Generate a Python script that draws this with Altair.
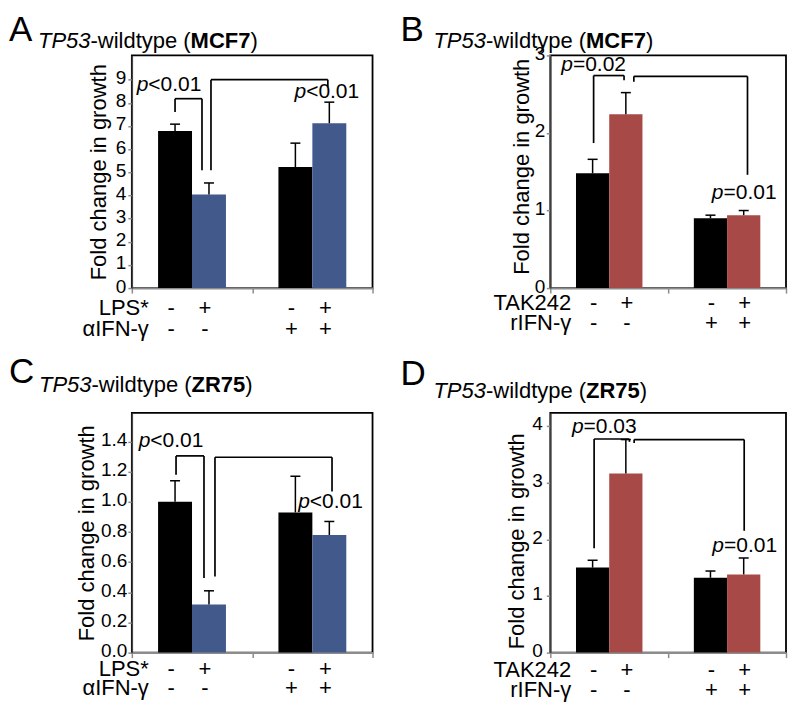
import altair as alt
import pandas as pd

FONT = "Liberation Sans"

# ---------------- data ----------------
bar_ids = ["ctrl_1", "trt_1", "ctrl_2", "trt_2"]
bar_group = [0, 0, 1, 1]
bar_treat = [0, 1, 0, 1]

A_means = [6.78, 4.04, 5.23, 7.12]
A_errs = [0.30, 0.50, 1.03, 0.91]
B_means = [1.48, 2.24, 0.90, 0.94]
B_errs = [0.18, 0.28, 0.04, 0.06]
C_means = [1.00, 0.32, 0.93, 0.78]
C_errs = [0.14, 0.09, 0.24, 0.09]
D_means = [1.50, 3.16, 1.32, 1.38]
D_errs = [0.13, 0.60, 0.12, 0.29]

row_first = ["-", "+", "-", "+"]
row_second = ["-", "-", "+", "+"]
names_lps = ["LPS*", "\u03b1IFN-\u03b3"]
names_tak = ["TAK242", "rIFN-\u03b3"]

A_ticks = [0, 1, 2, 3, 4, 5, 6, 7, 8, 9]
B_ticks = [0, 1, 2, 3]
C_ticks = [0.0, 0.2, 0.4, 0.6, 0.8, 1.0, 1.2, 1.4]
D_ticks = [0, 1, 2, 3, 4]

kinds = ["ctrl", "LPS", "TAK242"]
kind_colors = ["#000000", "#41598B", "#A74A47"]

# significance brackets: path points (bar index, pixel nudge, value)
A_brackets = [[(0, 0, 7.6), (0, 0, 8.18), (1, -7, 8.18), (1, -7, 5.09)],
              [(1, 2, 5.09), (1, 2, 9.0), (3, -1.5, 9.0), (3, -1.5, 8.7)]]
B_brackets = [[(0, 1, 1.87), (0, 1, 2.74), (1, -1.8, 2.74), (1, -1.8, 2.68)],
              [(1, 8, 2.66), (1, 8, 2.73), (3, 3.8, 2.73), (3, 3.8, 1.46)]]
C_brackets = [[(0, 1, 1.18), (0, 1, 1.305), (1, -5, 1.305), (1, -5, 0.495)],
              [(1, 6, 0.505), (1, 6, 1.296), (3, 2.7, 1.296), (3, 2.7, 1.068)]]
D_brackets = [[(0, 1.5, 1.84), (0, 1.5, 3.77), (1, 3.6, 3.77), (1, 3.6, 3.72)],
              [(1, 8.3, 3.70), (1, 8.3, 3.76), (3, 0.5, 3.76), (3, 0.5, 2.15)]]

A_ptexts = [(0, -6, 8.75, "<0.01"), (3, -2.5, 8.45, "<0.01")]
B_ptexts = [(0, 1, 2.88, "=0.02"), (3, 0.5, 1.23, "=0.01")]
C_ptexts = [(0, -4, 1.405, "<0.01"), (3, 1.2, 1.0, "<0.01")]
D_ptexts = [(0, 11.7, 3.99, "=0.03"), (3, 1, 1.88, "=0.01")]

# ---------------- text width helper (Arial metrics, em) ----------------
W_REG = {"-": .333, "w": .722, "i": .222, "l": .222, "d": .556, "t": .278,
         "y": .5, "p": .556, "e": .556, " ": .278, "(": .333, ")": .333}
W_BOLD = {"M": .833, "C": .722, "F": .611, "7": .556, "Z": .611, "R": .722, "5": .556}
W_IT = {"T": .611, "P": .667, "5": .556, "3": .556}


def tw(s, table, size):
    return sum(table[c] for c in s) * size


def panel(cfg):
    W, H = cfg["W"], cfg["H"]
    px = 2.0 / W
    BW = 0.282
    OUT = (1 - 2 * BW) / 2
    df = pd.DataFrame({"bar": bar_ids, "g": bar_group, "t": bar_treat,
                       "mean": cfg["means"], "err": cfg["errs"],
                       "r1": row_first, "r2": row_second})
    df["kind"] = ["ctrl" if t == 0 else cfg["treat"] for t in bar_treat]
    df["x0"] = df["g"] + OUT + df["t"] * BW
    df["x1"] = df["x0"] + BW
    df["xc"] = df["x0"] + BW / 2
    df["zero"] = 0.0
    df["top"] = df["mean"] + df["err"]
    df["cap0"] = df["xc"] - 5 * px
    df["cap1"] = df["xc"] + 5 * px
    centers = list(df["xc"])

    xs = alt.Scale(domain=[0, 2], nice=False, zero=False)
    ys = alt.Scale(domain=[0, cfg["ymax"]], nice=False, zero=True)
    xaxis = alt.Axis(values=[0, 1, 2], labels=False, title=None, grid=False,
                     domainColor="#8c8c8c", domainWidth=2, tickColor="#8c8c8c",
                     tickSize=5, tickWidth=1.5)
    yaxis = alt.Axis(values=cfg["ticks"], format=cfg["fmt"], grid=False,
                     labelFontSize=19, labelColor="black", labelFont=FONT,
                     labelPadding=cfg["lpad"], labelOffset=-2,
                     tickColor="#8c8c8c", tickSize=4, tickWidth=1.5,
                     domainColor="#444444", domainWidth=1.5,
                     title="Fold change in growth", titleFont=FONT,
                     titleFontSize=22, titleFontWeight="normal",
                     titleColor="black", titleAngle=270, titleAlign="center",
                     titleBaseline="middle", titleX=cfg["tx"], titleY=cfg["ty"])

    def X(f):
        return alt.X(f, type="quantitative", scale=xs, axis=xaxis)

    def Y(f):
        return alt.Y(f, type="quantitative", scale=ys, axis=yaxis)

    base = alt.Chart(df)
    bars = base.mark_bar().encode(
        x=X("x0"), x2="x1:Q", y=Y("mean"), y2="zero:Q",
        color=alt.Color("kind:N", legend=None,
                        scale=alt.Scale(domain=kinds, range=kind_colors)),
    )
    err = base.mark_rule(color="black", strokeWidth=1.5).encode(
        x=X("xc"), y=Y("mean"), y2="top:Q")
    cap = base.mark_rule(color="black", strokeWidth=1.5).encode(
        x=X("cap0"), x2="cap1:Q", y=Y("top"))

    segs = []
    for path in cfg["brackets"]:
        pts = [(centers[b] + n * px, v) for b, n, v in path]
        for (xa, ya), (xb, yb) in zip(pts[:-1], pts[1:]):
            segs.append({"xa": xa, "ya": ya, "xb": xb, "yb": yb})
    br = alt.Chart(pd.DataFrame(segs)).mark_rule(color="black", strokeWidth=1.7).encode(
        x=X("xa"), x2="xb:Q", y=Y("ya"), y2="yb:Q")

    pt = pd.DataFrame([{"x": centers[b] + n * px, "y": v, "rest": s}
                       for b, n, v, s in cfg["ptexts"]])
    fs_p = 21
    total = (0.556 + 0.584 + 0.556 + 0.278 + 0.556 + 0.556) * fs_p
    jdx = -total / 2 + 0.556 * fs_p
    p_it = alt.Chart(pt).mark_text(text="p", fontStyle="italic", align="right", baseline="middle",
                                   fontSize=fs_p, dx=jdx, font=FONT, color="black").encode(
        x=X("x"), y=Y("y"))
    p_rest = alt.Chart(pt).mark_text(align="left", baseline="middle", fontSize=fs_p, dx=jdx,
                                     font=FONT, color="black").encode(
        x=X("x"), y=Y("y"), text="rest:N")

    fs_r = 22
    s1 = base.mark_text(fontSize=fs_r, baseline="middle", dx=cfg["sdx"], font=FONT, color="black").encode(
        x=X("xc"), y=alt.value(H + cfg["r1"]), text="r1:N")
    s2 = base.mark_text(fontSize=fs_r, baseline="middle", dx=cfg["sdx"], font=FONT, color="black").encode(
        x=X("xc"), y=alt.value(H + cfg["r2"]), text="r2:N")

    n1 = alt.Chart(pd.DataFrame({"n": [cfg["names"][0]]})).mark_text(
        fontSize=fs_r, baseline="middle", align="right", font=FONT, color="black").encode(
        x=alt.value(cfg["nx"]), y=alt.value(H + cfg["r1"]), text="n:N")
    n2 = alt.Chart(pd.DataFrame({"n": [cfg["names"][1]]})).mark_text(
        fontSize=fs_r, baseline="middle", align="right", font=FONT, color="black").encode(
        x=alt.value(cfg["nx"]), y=alt.value(H + cfg["r2"]), text="n:N")

    # title segments
    fs_t = 22
    segs_t = [("TP53", "italic", "normal", tw("TP53", W_IT, fs_t)),
              ("-wildtype (", "normal", "normal", tw("-wildtype (", W_REG, fs_t)),
              (cfg["cell"], "normal", "bold", tw(cfg["cell"], W_BOLD, fs_t)),
              (")", "normal", "normal", 0)]
    tl = []
    xx = cfg["title_x"]
    for s, st, wt, w in segs_t:
        tl.append(alt.Chart(pd.DataFrame({"s": [s]})).mark_text(
            align="left", baseline="alphabetic", fontSize=fs_t, fontStyle=st, fontWeight=wt,
            font=FONT, color="black").encode(
            x=alt.value(xx), y=alt.value(cfg["title_y"]), text="s:N"))
        xx += w
    letter = alt.Chart(pd.DataFrame({"s": [cfg["letter"]]})).mark_text(
        align="left", baseline="top", fontSize=35, font=FONT, color="black").encode(
        x=alt.value(cfg["lx"]), y=alt.value(cfg["ly"]), text="s:N")

    return alt.layer(bars, err, cap, br, p_it, p_rest, s1, s2, n1, n2, *tl, letter).properties(
        width=W, height=H)


cfgA = dict(W=241, H=233, means=A_means, errs=A_errs, treat="LPS", ymax=10.05,
            ticks=A_ticks, fmt="d", lpad=2, tx=-33, ty=116.5, brackets=A_brackets,
            ptexts=A_ptexts, sdx=-4, r1=20, r2=41, names=names_lps, nx=17,
            title_x=-94, title_y=-7.5, cell="MCF7", letter="A", lx=-123, ly=-42)
cfgB = dict(W=236, H=233, means=B_means, errs=B_errs, treat="TAK242", ymax=3.0,
            ticks=B_ticks, fmt="d", lpad=1.5, tx=-29, ty=111, brackets=B_brackets,
            ptexts=B_ptexts, sdx=1, r1=15, r2=35, names=names_tak, nx=21,
            title_x=-117, title_y=-7.3, cell="MCF7", letter="B", lx=-150, ly=-42)
cfgC = dict(W=241, H=240, means=C_means, errs=C_errs, treat="LPS", ymax=1.59,
            ticks=C_ticks, fmt=".1f", lpad=1, tx=-45, ty=120, brackets=C_brackets,
            ptexts=C_ptexts, sdx=-4, r1=16, r2=35, names=names_lps, nx=17,
            title_x=-93, title_y=-20.8, cell="ZR75", letter="C", lx=-123, ly=-58)
cfgD = dict(W=236, H=240, means=D_means, errs=D_errs, treat="TAK242", ymax=4.23,
            ticks=D_ticks, fmt="d", lpad=4, tx=-34, ty=128, brackets=D_brackets,
            ptexts=D_ptexts, sdx=1, r1=17.5, r2=37.5, names=names_tak, nx=21,
            title_x=-117, title_y=-15.2, cell="ZR75", letter="D", lx=-150, ly=-56)

chart = alt.concat(panel(cfgA), panel(cfgB), panel(cfgC), panel(cfgD),
                   columns=2, spacing={"row": 125, "column": 178},
                   bounds="flush", align="each").properties(
    padding={"left": 0, "top": 4, "right": 0, "bottom": 0},
    background="white",
).configure_view(stroke="black", strokeWidth=1.8).configure_text(font=FONT)

chart.save("out.html", embed_options={"renderer": "svg", "actions": False})
